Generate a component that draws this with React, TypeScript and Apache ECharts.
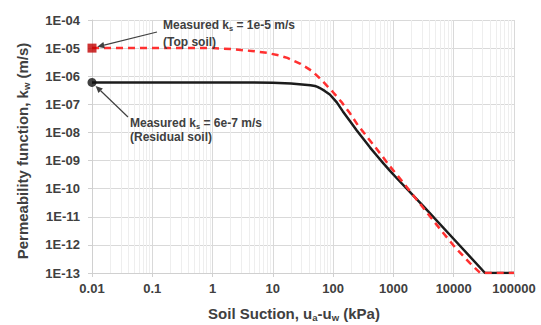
import React, { useEffect, useRef } from 'react';
import * as echarts from 'echarts';

// Tick labels
const xTickLabels = ['0.01', '0.1', '1', '10', '100', '1000', '10000', '100000'];
const yTickLabels = ['1E-13', '1E-12', '1E-11', '1E-10', '1E-09', '1E-08', '1E-07', '1E-06', '1E-05', '1E-04'];
const minorFactors = [2, 3, 4, 5, 6, 7, 8, 9];

// Residual soil (black solid)
const residualSuction = [0.01, 1, 10, 20, 33.9, 42, 50, 55, 60.3, 72.4, 88.1, 115, 145, 191, 245, 309, 407, 537, 676, 871, 1148, 3162, 10000, 33100, 100000];
const residualK = [6e-7, 6e-7, 5.9e-7, 5.5e-7, 5.0e-7, 4.8e-7, 4.5e-7, 4.2e-7, 3.8e-7, 3.0e-7, 2.24e-7, 1.17e-7, 5.6e-8, 2.5e-8, 1.2e-8, 6.3e-9, 2.95e-9, 1.45e-9, 8.1e-10, 4.4e-10, 2.3e-10, 2.34e-11, 1.62e-12, 1e-13, 1e-13];

// Top soil (red dashed)
const topSuction = [0.01, 1, 2, 4.47, 7.94, 12.6, 17.4, 28.8, 45.7, 64.6, 98.9, 138, 189, 257, 363, 490, 661, 871, 1189, 1445, 4529, 6607, 10471, 18620, 27540, 100000];
const topK = [1e-5, 1e-5, 9.3e-6, 7.9e-6, 6.8e-6, 5.5e-6, 4.5e-6, 2.75e-6, 1.48e-6, 7.2e-7, 2.75e-7, 1.2e-7, 4.9e-8, 1.82e-8, 7.1e-9, 3.16e-9, 1.38e-9, 6.3e-10, 2.8e-10, 1.66e-10, 7.6e-12, 2.75e-12, 8.3e-13, 2.24e-13, 1e-13, 1e-13];

// Measured points
const measuredSuction = [0.01];
const topMeasuredK = [1e-5];
const residualMeasuredK = [6e-7];

const FONT = "'Liberation Sans', Arial, sans-serif";
const TXT = '#404040';

export default function App() {
  const ref = useRef<HTMLDivElement>(null);
  useEffect(() => {
    const chart = echarts.init(ref.current!, null, { renderer: 'svg' });
    const expOf = (v: number) => Math.round(Math.log10(v));
    const minorX: any[] = [];
    const minorY: any[] = [];
    for (let e = -2; e < 5; e++) for (const f of minorFactors) minorX.push({ xAxis: f * Math.pow(10, e) });
    for (let e = -13; e < -4; e++) for (const f of minorFactors) minorY.push({ yAxis: f * Math.pow(10, e) });

    chart.setOption({
      animation: false,
      grid: { left: 92, top: 20, right: 27, bottom: 52 },
      xAxis: {
        type: 'log', logBase: 10, min: 0.01, max: 100000,
        axisLine: { show: true, onZero: false, lineStyle: { color: '#d0d0d0' } },
        axisTick: { show: true, length: 4, lineStyle: { color: '#d0d0d0' } },
        axisLabel: { formatter: (v: number) => xTickLabels[expOf(v) + 2], fontSize: 13, fontWeight: 'bold', color: TXT, fontFamily: FONT, margin: 9 },
        splitLine: { show: true, lineStyle: { color: '#d9d9d9' } },
      },
      yAxis: {
        type: 'log', logBase: 10, min: 1e-13, max: 1e-4,
        axisLine: { show: true, onZero: false, lineStyle: { color: '#d0d0d0' } },
        axisTick: { show: true, length: 4, lineStyle: { color: '#d0d0d0' } },
        axisLabel: { formatter: (v: number) => yTickLabels[expOf(v) + 13], fontSize: 13, fontWeight: 'bold', color: TXT, fontFamily: FONT, margin: 12 },
        splitLine: { show: true, lineStyle: { color: '#d9d9d9' } },
      },
      series: [
        {
          type: 'line', data: [], z: 0, silent: true,
          markLine: {
            z: 0, silent: true, symbol: ['none', 'none'], label: { show: false }, animation: false,
            lineStyle: { color: '#eeeeee', width: 1, type: 'solid' },
            emphasis: { disabled: true },
            data: [...minorX, ...minorY],
          },
        },
        {
          type: 'line', name: 'Residual soil', z: 3,
          data: residualSuction.map((s, i) => [s, residualK[i]]),
          showSymbol: false, symbol: 'none',
          lineStyle: { color: '#1c1c1c', width: 2.5, join: 'round' },
        },
        {
          type: 'line', name: 'Top soil', z: 4,
          data: topSuction.map((s, i) => [s, topK[i]]),
          showSymbol: false, symbol: 'none',
          lineStyle: { color: '#ff3030', width: 2.5, type: [7, 5], join: 'round' },
        },
        {
          type: 'scatter', z: 5, clip: false, symbol: 'rect', symbolSize: 9,
          itemStyle: { color: '#c00000' },
          data: measuredSuction.map((s, i) => [s, topMeasuredK[i]]),
        },
        {
          type: 'scatter', z: 5, clip: false, symbol: 'circle', symbolSize: 9,
          itemStyle: { color: '#111111' },
          data: measuredSuction.map((s, i) => [s, residualMeasuredK[i]]),
        },
      ],
    });

    const pTop = chart.convertToPixel({ gridIndex: 0 }, [measuredSuction[0], topMeasuredK[0]]) as number[];
    const pRes = chart.convertToPixel({ gridIndex: 0 }, [measuredSuction[0], residualMeasuredK[0]]) as number[];

    const arrow = (sx: number, sy: number, mx: number, my: number, gap: number) => {
      const dx = sx - mx, dy = sy - my;
      const L = Math.hypot(dx, dy);
      const ux = dx / L, uy = dy / L;
      const tx = mx + ux * gap, ty = my + uy * gap;
      const hl = 7, hw = 3.2;
      const nx = -uy, ny = ux;
      const bx = tx + ux * hl, by = ty + uy * hl;
      return [
        { type: 'line', z: 100, shape: { x1: sx, y1: sy, x2: bx, y2: by }, style: { stroke: '#404040', lineWidth: 1.2 } },
        { type: 'polygon', z: 100, shape: { points: [[tx, ty], [bx + nx * hw, by + ny * hw], [bx - nx * hw, by - ny * hw]] }, style: { fill: '#404040' } },
      ];
    };

    const annRich = {
      a: { fontSize: 12, fontWeight: 'bold', fontFamily: FONT, fill: TXT, lineHeight: 14 },
      s: { fontSize: 7.5, fontWeight: 'bold', fontFamily: FONT, fill: TXT, lineHeight: 8, verticalAlign: 'bottom' },
    };
    const titleRich = {
      a: { fontSize: 15, fontWeight: 'bold', fontFamily: FONT, fill: TXT, lineHeight: 18 },
      s: { fontSize: 9.5, fontWeight: 'bold', fontFamily: FONT, fill: TXT, lineHeight: 10, verticalAlign: 'bottom' },
    };

    chart.setOption({
      graphic: [
        ...arrow(157, 32, pTop[0], pTop[1], 5.5),
        ...arrow(128, 117, pRes[0], pRes[1], 5),
        { type: 'text', z: 100, x: 163, y: 25, style: { text: '{a|Measured k}{s|s}{a| = 1e-5 m/s}', rich: annRich, align: 'left', verticalAlign: 'middle' } },
        { type: 'text', z: 100, x: 163, y: 42, style: { text: '{a|(Top soil)}', rich: annRich, align: 'left', verticalAlign: 'middle' } },
        { type: 'text', z: 100, x: 130, y: 123, style: { text: '{a|Measured k}{s|s}{a| = 6e-7 m/s}', rich: annRich, align: 'left', verticalAlign: 'middle' } },
        { type: 'text', z: 100, x: 130, y: 137, style: { text: '{a|(Residual soil)}', rich: annRich, align: 'left', verticalAlign: 'middle' } },
        { type: 'text', z: 100, x: 294, y: 313, style: { text: '{a|Soil Suction, u}{s|a}{a|-u}{s|w}{a| (kPa)}', rich: titleRich, align: 'center', verticalAlign: 'middle' } },
        { type: 'text', z: 100, x: 22, y: 151, rotation: Math.PI / 2, style: { text: '{a|Permeability function, k}{s|w}{a| (m/s)}', rich: titleRich, align: 'center', verticalAlign: 'middle' } },
      ],
    });

    return () => chart.dispose();
  }, []);
  return <div ref={ref} style={{ position: 'fixed', left: 0, top: 0, width: 541, height: 325, background: '#fff' }} />;
}
